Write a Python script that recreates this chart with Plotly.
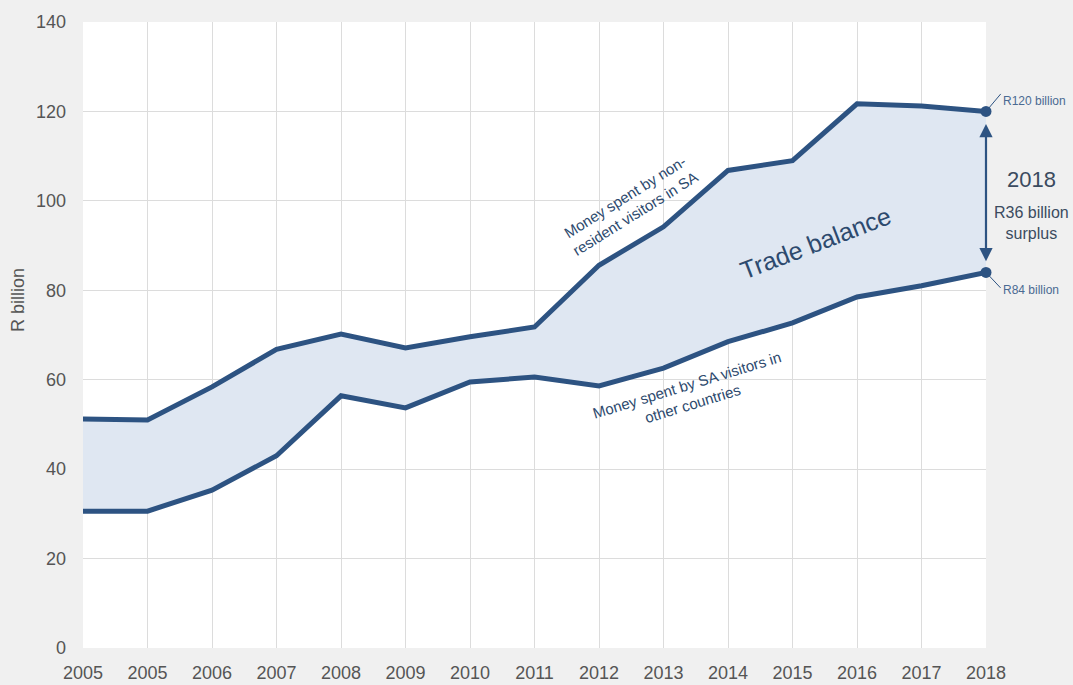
import plotly.graph_objects as go

# Tourism trade: money spent by non-resident visitors in SA vs. SA visitors abroad (R billion)
year_labels = ["2005", "2005", "2006", "2007", "2008", "2009", "2010", "2011",
               "2012", "2013", "2014", "2015", "2016", "2017", "2018"]
inbound_spend = [51.2, 51.0, 58.4, 66.8, 70.2, 67.1, 69.6, 71.8,
                 85.6, 94.2, 106.8, 109.0, 121.7, 121.2, 120.0]
outbound_spend = [30.6, 30.6, 35.3, 43.0, 56.4, 53.7, 59.5, 60.6,
                  58.6, 62.6, 68.5, 72.7, 78.5, 81.0, 84.0]
y_ticks = [0, 20, 40, 60, 80, 100, 120, 140]

x_pos = list(range(len(year_labels)))
last = x_pos[-1]
surplus = inbound_spend[-1] - outbound_spend[-1]

LINE = "#2d5382"
FILL = "#dfe7f2"
TEXT = "#2d4a6e"
GREY = "#555555"
FONT = "Liberation Sans Narrow, Arial Narrow, Liberation Sans, Arial, sans-serif"

fig = go.Figure()
fig.add_trace(go.Scatter(x=x_pos, y=outbound_spend, mode="lines",
                         line=dict(color=LINE, width=5), hoverinfo="skip"))
fig.add_trace(go.Scatter(x=x_pos, y=inbound_spend, mode="lines",
                         line=dict(color=LINE, width=5), fill="tonexty",
                         fillcolor=FILL, hoverinfo="skip"))
fig.add_trace(go.Scatter(x=[last, last], y=[inbound_spend[-1], outbound_spend[-1]],
                         mode="markers", marker=dict(color=LINE, size=11),
                         cliponaxis=False, hoverinfo="skip"))

annotations = [
    # y-axis title
    dict(x=-0.072, y=0.556, xref="paper", yref="paper", xanchor="center",
         yanchor="middle", text="R billion", textangle=-90, showarrow=False,
         font=dict(size=18, color=GREY)),
    dict(x=8.48, y=99.0, text="Money spent by non-<br>resident visitors in SA",
         textangle=-32, font=dict(size=15, color=TEXT), showarrow=False),
    dict(x=9.41, y=56.6, text="Money spent by SA visitors in<br>other countries",
         textangle=-17, font=dict(size=15, color=TEXT), showarrow=False),
    dict(x=11.35, y=90.6, text="Trade balance", textangle=-21,
         font=dict(size=25, color=TEXT), showarrow=False),
    # double-headed arrow spanning the 2018 gap
    dict(x=last, y=outbound_spend[-1] + 2.5, ax=last, ay=inbound_spend[-1] - 2.5,
         axref="x", ayref="y", text="", showarrow=True, arrowhead=2,
         arrowside="end+start", arrowsize=1.2, arrowwidth=2.2, arrowcolor=LINE),
    # leader lines to the value labels
    dict(x=last, y=inbound_spend[-1], ax=16, ay=-19, text="", showarrow=True,
         arrowhead=0, arrowwidth=1, arrowcolor=LINE, standoff=4),
    dict(x=last, y=outbound_spend[-1], ax=16, ay=17, text="", showarrow=True,
         arrowhead=0, arrowwidth=1, arrowcolor=LINE, standoff=4),
    dict(x=1.017, y=0.888, xref="paper", yref="paper", xanchor="left",
         text=f"R{inbound_spend[-1]:.0f} billion", showarrow=False,
         font=dict(size=12, color="#4a6a92")),
    dict(x=1.017, y=0.572, xref="paper", yref="paper", xanchor="left",
         text=f"R{outbound_spend[-1]:.0f} billion", showarrow=False,
         font=dict(size=12, color="#4a6a92")),
    dict(x=1.05, y=0.772, xref="paper", yref="paper", xanchor="center",
         text=year_labels[-1], showarrow=False, font=dict(size=22, color="#3b4b5f")),
    dict(x=1.05, y=0.713, xref="paper", yref="paper", xanchor="center",
         text=f"R{surplus:.0f} billion<br>surplus", showarrow=False,
         font=dict(size=16, color="#3b4b5f")),
]

fig.update_layout(
    width=1073, height=685,
    margin=dict(l=83, r=87, t=22, b=37),
    paper_bgcolor="#f0f0f0", plot_bgcolor="#ffffff",
    showlegend=False,
    font=dict(family=FONT, color=GREY),
    annotations=annotations,
    xaxis=dict(range=[0, last], tickmode="array", tickvals=x_pos, ticktext=year_labels,
               showgrid=True, gridcolor="#dcdcdc", gridwidth=1, zeroline=False,
               showline=False, ticks="", ticklabelstandoff=12, automargin=False,
               tickfont=dict(size=18, color=GREY)),
    yaxis=dict(range=[0, 140], tickmode="array", tickvals=y_ticks,
               showgrid=True, gridcolor="#dcdcdc", gridwidth=1, zeroline=False,
               showline=False, ticks="", ticklabelstandoff=16, automargin=False,
               tickfont=dict(size=18, color=GREY)),
)

fig.write_html("out.html")
